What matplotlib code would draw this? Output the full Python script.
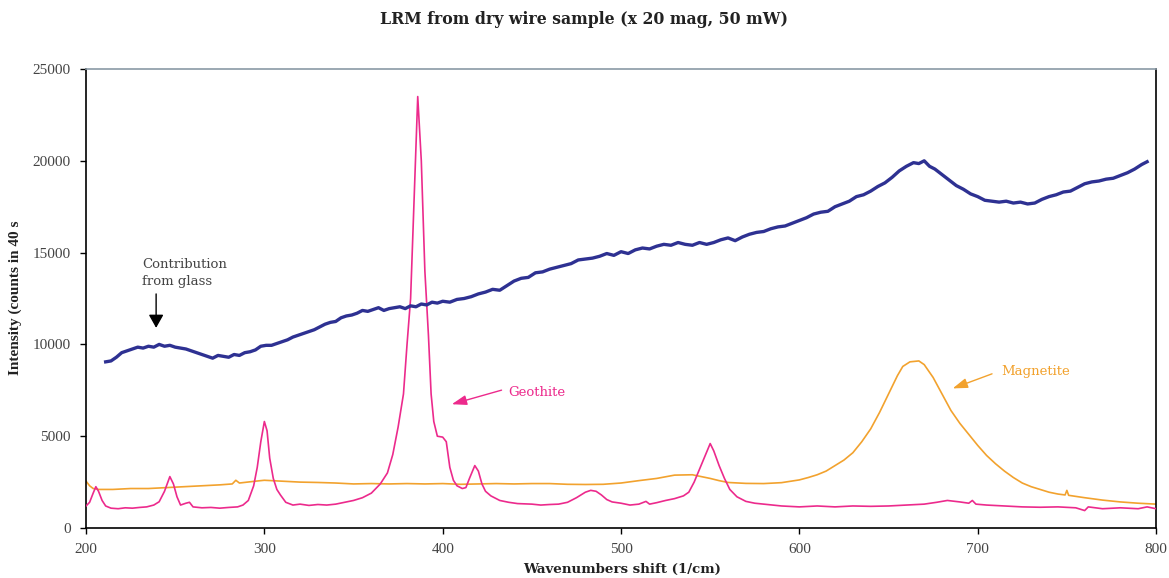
import matplotlib
matplotlib.use("Agg")
import matplotlib.pyplot as plt

plt.rcParams['font.family'] = ['Liberation Serif', 'DejaVu Serif']

# Glass contribution (thick navy trace)
glass_x = [211, 214, 217, 220, 223, 226, 229, 232, 235, 238, 241, 244, 247,
           250, 253, 256, 259, 262, 265, 268, 271, 274, 277, 280, 283, 286,
           289, 292, 295, 298, 301, 304, 307, 310, 313, 316, 319, 322, 325,
           328, 331, 334, 337, 340, 343, 346, 349, 352, 355, 358, 361, 364,
           367, 370, 373, 376, 379, 382, 385, 388, 391, 394, 397, 400, 404,
           408, 412, 416, 420, 424, 428, 432, 436, 440, 444, 448, 452, 456,
           460, 464, 468, 472, 476, 480, 484, 488, 492, 496, 500, 504, 508,
           512, 516, 520, 524, 528, 532, 536, 540, 544, 548, 552, 556, 560,
           564, 568, 572, 576, 580, 584, 588, 592, 596, 600, 604, 608, 612,
           616, 620, 624, 628, 632, 636, 640, 644, 648, 652, 656, 660, 664,
           667, 670, 673, 676, 680, 684, 688, 692, 696, 700, 704, 708, 712,
           716, 720, 724, 728, 732, 736, 740, 744, 748, 752, 756, 760, 764,
           768, 772, 776, 780, 784, 788, 792, 795]
glass_y = [9050, 9100, 9300, 9550, 9650, 9750, 9850, 9800, 9900, 9850, 10000,
           9900, 9950, 9850, 9800, 9750, 9650, 9550, 9450, 9350, 9250, 9400,
           9350, 9300, 9450, 9400, 9550, 9600, 9700, 9900, 9950, 9950, 10050,
           10150, 10250, 10400, 10500, 10600, 10700, 10800, 10950, 11100,
           11200, 11250, 11450, 11550, 11600, 11700, 11850, 11800, 11900,
           12000, 11850, 11950, 12000, 12050, 11950, 12100, 12050, 12200,
           12150, 12300, 12250, 12350, 12300, 12450, 12500, 12600, 12750,
           12850, 13000, 12950, 13200, 13450, 13600, 13650, 13900, 13950,
           14100, 14200, 14300, 14400, 14600, 14650, 14700, 14800, 14950,
           14850, 15050, 14950, 15150, 15250, 15200, 15350, 15450, 15400,
           15550, 15450, 15400, 15550, 15450, 15550, 15700, 15800, 15650,
           15850, 16000, 16100, 16150, 16300, 16400, 16450, 16600, 16750,
           16900, 17100, 17200, 17250, 17500, 17650, 17800, 18050, 18150,
           18350, 18600, 18800, 19100, 19450, 19700, 19900, 19850, 20000,
           19700, 19550, 19250, 18950, 18650, 18450, 18200, 18050, 17850,
           17800, 17750, 17800, 17700, 17750, 17650, 17700, 17900, 18050,
           18150, 18300, 18350, 18550, 18750, 18850, 18900, 19000, 19050,
           19200, 19350, 19550, 19800, 19950]

# Goethite spectrum
goe_x = [200, 202, 204, 205.5, 207, 209, 211, 214, 218, 222, 226, 230, 234,
         238, 241, 244, 247, 249, 251, 253, 256, 258, 260, 265, 270, 275, 280,
         285, 288, 291, 294, 296, 298, 300, 301.5, 303, 305, 307, 309, 312,
         316, 320, 325, 330, 335, 340, 345, 350, 355, 360, 365, 369, 372, 375,
         378, 380, 382, 384, 386, 388, 390, 392, 393.5, 395, 397, 400, 402,
         404, 406, 408, 411, 413, 415, 418, 420, 422, 424, 427, 432, 437, 442,
         450, 455, 460, 465, 470, 475, 480, 483, 486, 489, 492, 495, 500, 505,
         510, 514, 516, 520, 525, 530, 535, 538, 541, 544, 547, 550, 552, 555,
         558, 561, 565, 570, 575, 580, 590, 600, 610, 620, 630, 640, 650, 660,
         670, 677, 683, 690, 695, 697, 699, 705, 715, 725, 735, 745, 755, 760,
         762, 770, 780, 790, 795, 800]
goe_y = [1200, 1400, 1900, 2250, 2000, 1500, 1200, 1080, 1050, 1100, 1080,
         1120, 1150, 1250, 1430, 2000, 2800, 2400, 1700, 1250, 1350, 1400,
         1150, 1100, 1120, 1080, 1120, 1150, 1250, 1500, 2300, 3300, 4700,
         5800, 5300, 3800, 2700, 2100, 1800, 1400, 1250, 1300, 1230, 1280,
         1250, 1300, 1400, 1500, 1650, 1900, 2400, 3000, 4000, 5500, 7300,
         10000, 12500, 18000, 23500, 20000, 14000, 10500, 7300, 5800, 5000,
         4950, 4700, 3300, 2600, 2300, 2150, 2200, 2700, 3400, 3100, 2400,
         2000, 1750, 1500, 1400, 1330, 1300, 1250, 1280, 1300, 1400, 1650,
         1950, 2050, 2000, 1800, 1550, 1420, 1350, 1250, 1300, 1450, 1300,
         1380, 1500, 1600, 1750, 1950, 2500, 3200, 3900, 4600, 4200, 3400,
         2700, 2100, 1700, 1450, 1350, 1300, 1200, 1150, 1200, 1150, 1200,
         1180, 1200, 1250, 1300, 1400, 1500, 1420, 1350, 1500, 1300, 1250,
         1200, 1150, 1130, 1150, 1100, 950, 1150, 1050, 1100, 1050, 1150,
         1050]

# Magnetite spectrum
mag_x = [200, 202, 204, 207, 215, 225, 235, 245, 255, 265, 275, 282, 284,
         286, 295, 300, 310, 320, 330, 340, 350, 360, 370, 380, 390, 400, 410,
         420, 430, 440, 450, 460, 470, 480, 490, 500, 510, 520, 530, 540, 545,
         550, 555, 560, 570, 580, 590, 600, 605, 610, 615, 620, 625, 630, 635,
         640, 645, 650, 655, 658, 662, 667, 670, 675, 680, 685, 690, 695, 700,
         705, 710, 715, 720, 725, 730, 735, 740, 745, 749, 750, 751, 760, 770,
         780, 790, 800]
mag_y = [2550, 2300, 2150, 2100, 2100, 2150, 2150, 2200, 2250, 2300, 2350,
         2400, 2600, 2450, 2550, 2600, 2550, 2500, 2480, 2450, 2400, 2420,
         2400, 2420, 2400, 2420, 2380, 2400, 2420, 2400, 2420, 2420, 2380,
         2370, 2380, 2450, 2580, 2700, 2880, 2900, 2800, 2700, 2580, 2480,
         2430, 2420, 2470, 2620, 2750, 2900, 3100, 3400, 3700, 4100, 4700,
         5400, 6300, 7300, 8300, 8800, 9050, 9100, 8900, 8200, 7300, 6400,
         5700, 5100, 4500, 3950, 3500, 3100, 2750, 2450, 2250, 2100, 1950,
         1850, 1800, 2050, 1780, 1650, 1520, 1420, 1350, 1300]

x_ticks = [200, 300, 400, 500, 600, 700, 800]
y_ticks = [0, 5000, 10000, 15000, 20000, 25000]

navy = '#2e3192'
pink = '#ec2a8c'
orange = '#f2a22e'
text_grey = '#444444'
wide = ['DejaVu Serif']   # wider face, closer to the spaced-out lettering

fig = plt.figure(figsize=(11.69, 5.78), dpi=100)
ax = fig.add_axes([0.0736, 0.0865, 0.9153, 0.7941])

ax.plot(mag_x, mag_y, color=orange, lw=1.2, zorder=2)
ax.plot(goe_x, goe_y, color=pink, lw=1.2, zorder=3)
ax.plot(glass_x, glass_y, color=navy, lw=2.4, zorder=4)

ax.set_xlim(200, 800)
ax.set_ylim(0, 25000)
ax.set_xticks(x_ticks)
ax.set_yticks(y_ticks)
ax.tick_params(direction='out', length=4, width=1, labelsize=11,
               labelcolor=text_grey, pad=7)

# Box: top edge is drawn lighter than the others
for side in ['left', 'bottom', 'right']:
    ax.spines[side].set_color('black')
    ax.spines[side].set_linewidth(1.2)
ax.spines['top'].set_color('#8a9aa6')
ax.spines['top'].set_linewidth(1.2)

fig.text(0.5, 0.966, 'LRM from dry wire sample (x 20 mag, 50 mW)',
         ha='center', va='center', fontsize=11.3, fontweight='bold',
         color='#222222', family=wide)
fig.text(0.532, 0.014, 'Wavenumbers shift (1/cm)', ha='center',
         va='center', fontsize=9.6, fontweight='bold', color='#222222',
         family=wide)
# the closing bracket is cut off in the original
fig.text(0.013, 0.485, 'Intensity (counts in 40 s', ha='center',
         va='center', rotation=90, fontsize=11, fontweight='bold',
         color='#222222')

# Annotations
ax.annotate('', xy=(239.3, 10750), xytext=(239.3, 12900),
            arrowprops=dict(arrowstyle='-|>,head_width=0.45,head_length=0.8',
                            color='black', lw=1))
ax.text(231.5, 13900, 'Contribution\nfrom glass', fontsize=9.5,
        color=text_grey, ha='left', va='center', linespacing=1.35,
        family=wide)

ax.annotate('', xy=(403.6, 6700), xytext=(434.5, 7550),
            arrowprops=dict(arrowstyle='-|>,head_width=0.3,head_length=0.9',
                            color=pink, lw=1))
ax.text(436.5, 7400, 'Geothite', fontsize=9.5, color=pink,
        ha='left', va='center', family=wide)

ax.annotate('', xy=(684.5, 7550), xytext=(709.5, 8450),
            arrowprops=dict(arrowstyle='-|>,head_width=0.3,head_length=0.9',
                            color=orange, lw=1))
ax.text(713, 8550, 'Magnetite', fontsize=9.5, color=orange,
        ha='left', va='center', family=wide)

fig.savefig('out.png', dpi=100)
